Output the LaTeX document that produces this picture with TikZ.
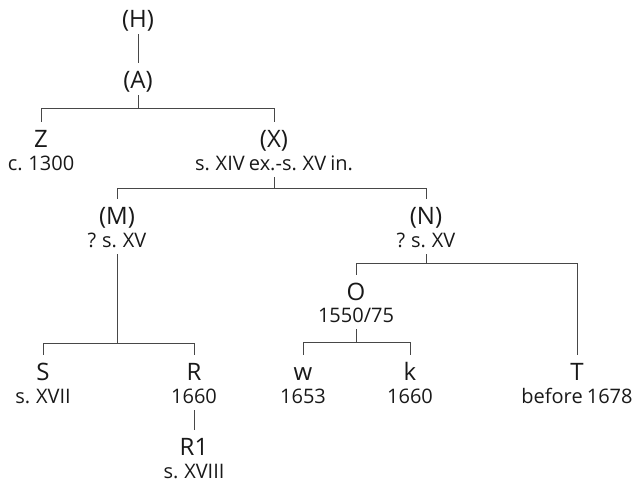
\documentclass[tikz,border=0pt]{standalone}
\usepackage{fontspec}
\setmainfont{Open Sans}[WordSpace=0.8]
\newcommand{\labfnt}{\fontsize{24}{26}\selectfont}
\newcommand{\datfnt}{\fontsize{20}{22}\selectfont}
\tikzset{
  lab/.style={font=\labfnt, text=black!90, inner sep=0pt, outer sep=0pt, anchor=base, text height=17pt, text depth=0pt},
  dat/.style={font=\datfnt, text=black!90, inner sep=0pt, outer sep=0pt, anchor=base, text height=15pt, text depth=0pt},
  edge/.style={line width=0.9pt, draw=black!72, shorten <=7pt, shorten >=8pt}
}
\begin{document}
\begin{tikzpicture}[x=1pt,y=-1pt]
\useasboundingbox (0,0) rectangle (636,482);
\node[lab] (H) at (138,27) {(H)};
\node[lab] (A) at (138,88) {(A)};
\node[lab] (Z) at (41,147) {Z};
\node[dat] (Zd) at (41,170) {c. 1300};
\node[lab] (X) at (274,147) {(X)};
\node[dat] (Xd) at (274,170) {s. XIV ex.-s. XV in.};
\node[lab] (M) at (117,224) {(M)};
\node[dat] (Md) at (117,247) {? s. XV};
\node[lab] (N) at (426,224) {(N)};
\node[dat] (Nd) at (426,247) {? s. XV};
\node[lab] (O) at (356,300) {O};
\node[dat] (Od) at (356,322) {1550/75};
\node[lab] (S) at (43,380) {S};
\node[dat] (Sd) at (43,403) {s. XVII};
\node[lab] (R) at (194,380) {R};
\node[dat] (Rd) at (194,403) {1660};
\node[lab] (R1) at (194,455) {R1};
\node[dat] (R1d) at (194,478) {s. XVIII};
\node[lab] (w) at (303,380) {w};
\node[dat] (wd) at (303,403) {1653};
\node[lab] (k) at (410,380) {k};
\node[dat] (kd) at (410,403) {1660};
\node[lab] (T) at (577,380) {T};
\node[dat] (Td) at (577,403) {before 1678};
% connectors
\draw[edge] (H.south) -- (A.north);
\draw[edge] (A.south) -- ++(0,20) -| (Z.north);
\draw[edge] (A.south) -- ++(0,20) -| (X.north);
\draw[edge] (Xd.south) -- ++(0,18) -| (M.north);
\draw[edge] (Xd.south) -- ++(0,18) -| (N.north);
\draw[edge] (Md.south) -- ++(0,96) -| (S.north);
\draw[edge] (Md.south) -- ++(0,96) -| (R.north);
\draw[edge] (Nd.south) -- ++(0,16) -| (O.north);
\draw[edge] (Nd.south) -- ++(0,16) -| (T.north);
\draw[edge] (Od.south) -- ++(0,20) -| (w.north);
\draw[edge] (Od.south) -- ++(0,20) -| (k.north);
\draw[edge] (Rd.south) -- (R1.north);
\end{tikzpicture}
\end{document}
